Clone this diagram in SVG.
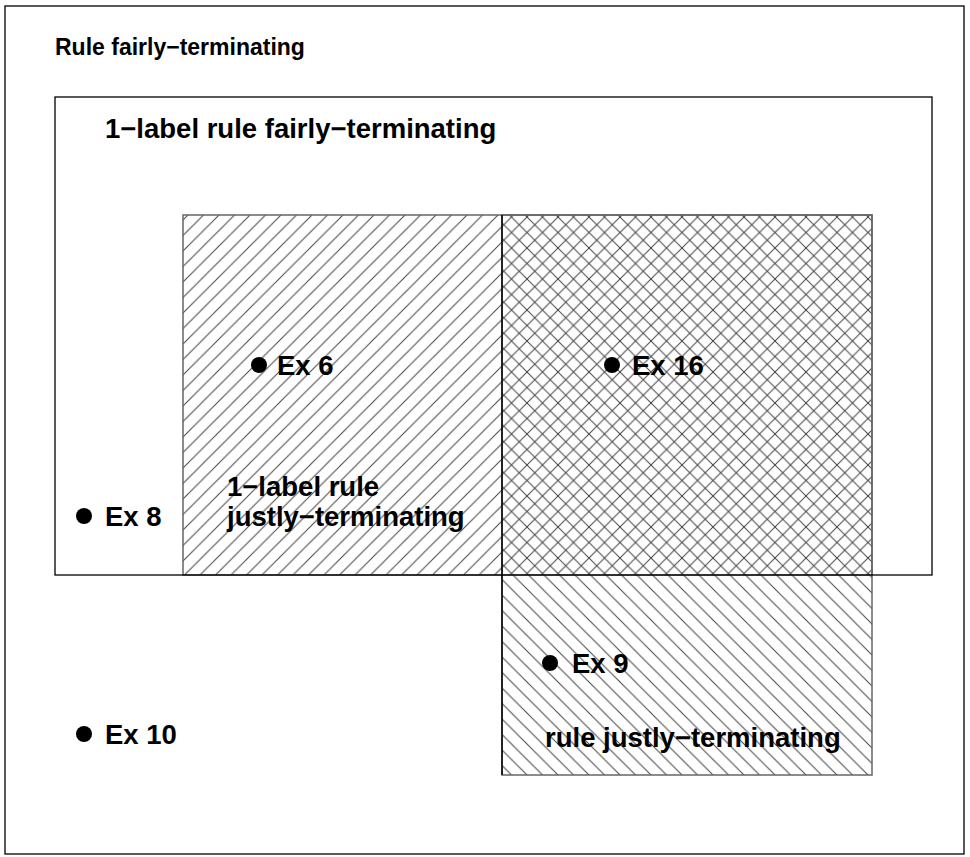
<svg xmlns="http://www.w3.org/2000/svg" width="970" height="857" viewBox="0 0 970 857">
<style>
.box{fill:none;stroke:#000;stroke-width:1.3}
.hbox{stroke:#666;stroke-width:1.5}
.lbl{font-family:"Liberation Sans",Arial,sans-serif;font-weight:bold;font-size:27.5px;fill:#000}
.ttl{font-size:23px}
.dot{fill:#000}
</style>
<defs>
<pattern id="fw" patternUnits="userSpaceOnUse" width="15.5" height="15.5">
<path d="M-1,1 L1,-1 M0,15.5 L15.5,0 M14.5,16.5 L16.5,14.5" stroke="#444" stroke-width="1"/>
</pattern>
<pattern id="bw" patternUnits="userSpaceOnUse" width="15.5" height="15.5">
<path d="M-1,14.5 L1,16.5 M0,0 L15.5,15.5 M14.5,-1 L16.5,1" stroke="#444" stroke-width="1"/>
</pattern>
</defs>
<rect width="970" height="857" fill="#fff"/>
<g id="rule-fairly">
<rect class="box" x="5" y="6" width="959" height="848"/>
<text class="lbl ttl" x="55" y="55">Rule fairly−terminating</text>
</g>
<g id="one-label-justly">
<rect x="183" y="215" width="689" height="360" fill="url(#fw)"/>
<rect class="box hbox" x="183" y="215" width="689" height="360"/>
</g>
<g id="rule-justly">
<rect x="502" y="215" width="370" height="560" fill="url(#bw)"/>
<rect class="box hbox" x="502" y="215" width="370" height="560"/>
<line x1="502" y1="215" x2="502" y2="775" stroke="#000" stroke-width="1.5"/>
<text class="lbl" x="545" y="747">rule justly−terminating</text>
</g>
<g id="one-label-fairly">
<rect class="box" x="55" y="97" width="877" height="478"/>
<text class="lbl" x="105" y="138">1−label rule fairly−terminating</text>
</g>
<g id="one-label-justly-label">
<text class="lbl" x="227" y="496">1−label rule</text>
<text class="lbl" x="227" y="526">justly−terminating</text>
</g>
<g id="ex6"><circle class="dot" cx="259" cy="365" r="8"/><text class="lbl" x="277" y="375">Ex 6</text></g>
<g id="ex16"><circle class="dot" cx="612" cy="365" r="8"/><text class="lbl" x="632" y="375">Ex 16</text></g>
<g id="ex8"><circle class="dot" cx="84" cy="516" r="8"/><text class="lbl" x="105" y="526">Ex 8</text></g>
<g id="ex9"><circle class="dot" cx="550" cy="663" r="8"/><text class="lbl" x="572" y="673">Ex 9</text></g>
<g id="ex10"><circle class="dot" cx="84" cy="734" r="8"/><text class="lbl" x="105" y="744">Ex 10</text></g>
<g id="connectors"/>
</svg>
